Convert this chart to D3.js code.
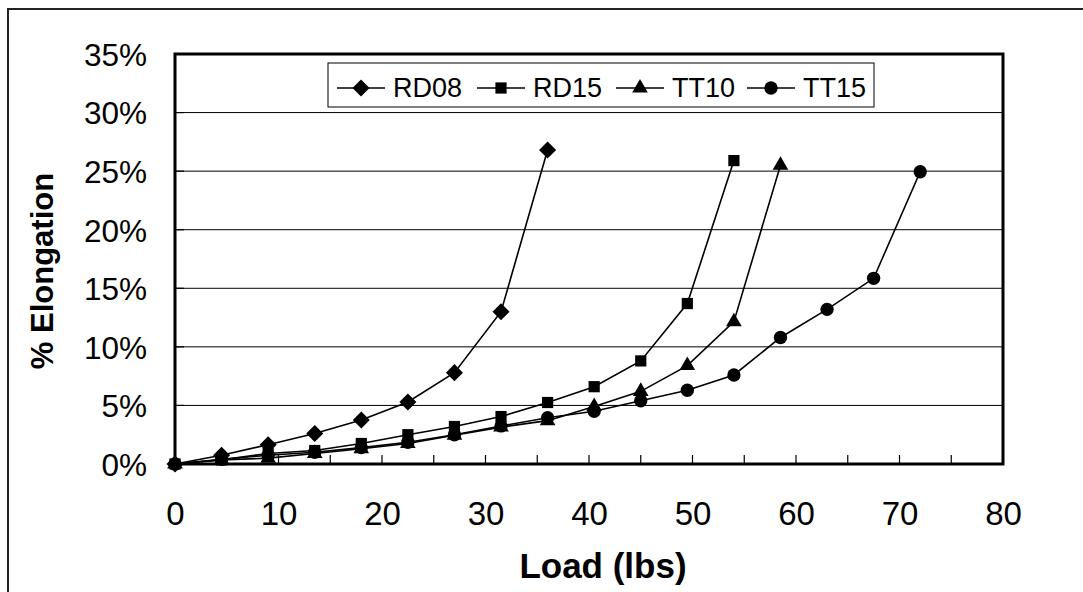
<!DOCTYPE html>
<html><head><meta charset="utf-8">
<script src="https://cdn.jsdelivr.net/npm/d3@7"></script>
<style>html,body{margin:0;padding:0;background:#fff;}svg{display:block;}</style>
</head><body>
<svg id="c" width="1083" height="592"></svg>
<script>
const loads = [0,4.5,9,13.5,18,22.5,27,31.5,36,40.5,45,49.5,54,58.5,63,67.5,72];
const seriesNames = ["RD08","RD15","TT10","TT15"];
const rd08 = [0,0.75,1.65,2.6,3.75,5.3,7.8,13.0,26.8];
const rd15 = [0,0.35,0.9,1.15,1.75,2.5,3.2,4.05,5.25,6.6,8.8,13.7,25.9];
const tt10 = [0,0.35,0.5,0.9,1.3,1.75,2.45,3.15,3.7,4.9,6.2,8.4,12.15,25.5];
const tt15 = [0,0.4,0.75,1.0,1.4,1.85,2.5,3.25,3.95,4.5,5.4,6.3,7.6,10.8,13.2,15.85,24.95];
const xTicks = [0,10,20,30,40,50,60,70,80];
const yTicks = [0,5,10,15,20,25,30,35];
const xTitle = "Load (lbs)";
const yTitle = "% Elongation";

const seriesVals = [rd08, rd15, tt10, tt15];
const symbols = [d3.symbolDiamond2, d3.symbolSquare2, d3.symbolTriangle2, d3.symbolCircle];
const symSizes = [185, 160, 175, 140];

const svg = d3.select("#c");
const FONT = "Liberation Sans, Arial, sans-serif";
const L = 175, R = 1003, T = 54, B = 464;

svg.append("rect").attr("x",8).attr("y",9).attr("width",1200).attr("height",800)
  .attr("fill","#fff").attr("stroke","#222").attr("stroke-width",2);

const x = d3.scaleLinear().domain([0,80]).range([L,R]);
const y = d3.scaleLinear().domain([0,35]).range([B,T]);

// gridlines
svg.append("g").selectAll("line").data(yTicks.filter(v=>v>0 && v<35)).join("line")
  .attr("x1",L).attr("x2",R).attr("y1",d=>y(d)).attr("y2",d=>y(d))
  .attr("stroke","#000").attr("stroke-width",1);

// inward ticks
const xMinor = d3.range(5,80,5);
svg.append("g").selectAll("line").data(xMinor).join("line")
  .attr("x1",d=>x(d)).attr("x2",d=>x(d)).attr("y1",B).attr("y2",B-9)
  .attr("stroke","#000").attr("stroke-width",1.2);
svg.append("g").selectAll("line").data(yTicks.filter(v=>v>0&&v<35)).join("line")
  .attr("x1",L).attr("x2",L+9).attr("y1",d=>y(d)).attr("y2",d=>y(d))
  .attr("stroke","#000").attr("stroke-width",1.2);

// frame
svg.append("rect").attr("x",L).attr("y",T).attr("width",R-L).attr("height",B-T)
  .attr("fill","none").attr("stroke","#000").attr("stroke-width",3);

// axes labels via d3 axes
const xAxis = d3.axisBottom(x).tickValues(xTicks).tickSize(0).tickPadding(0).tickFormat(d3.format("d"));
const gx = svg.append("g").attr("transform",`translate(0,${B})`).call(xAxis);
gx.select(".domain").remove();
gx.selectAll("text").attr("font-family",FONT).attr("font-size",33).attr("fill","#000")
  .attr("dy",null).attr("y",61);

const yAxis = d3.axisLeft(y).tickValues(yTicks).tickSize(0).tickPadding(0).tickFormat(d=>d+"%");
const gy = svg.append("g").attr("transform",`translate(147,0)`).call(yAxis);
gy.select(".domain").remove();
gy.selectAll("text").attr("font-family",FONT).attr("font-size",31.5).attr("fill","#000")
  .attr("dy","0.36em").attr("x",0);

// titles
svg.append("text").attr("x",603).attr("y",578).attr("text-anchor","middle")
  .attr("font-family",FONT).attr("font-weight","bold").attr("font-size",35).text(xTitle);
svg.append("text").attr("transform",`translate(53,271) rotate(-90)`).attr("text-anchor","middle")
  .attr("font-family",FONT).attr("font-weight","bold").attr("font-size",31).text(yTitle);

// series
const line = d3.line().x(d=>x(d[0])).y(d=>y(d[1]));
seriesVals.forEach((vals,i)=>{
  const pts = vals.map((v,j)=>[loads[j],v]);
  const g = svg.append("g");
  g.append("path").attr("d",line(pts)).attr("fill","none").attr("stroke","#000").attr("stroke-width",1.6);
  g.selectAll("path.m").data(pts).join("path").attr("class","m")
    .attr("transform",d=>`translate(${x(d[0])},${y(d[1])})`)
    .attr("d",d3.symbol().type(symbols[i]).size(symSizes[i])).attr("fill","#000");
});

// legend
const lg = svg.append("g");
lg.append("rect").attr("x",328).attr("y",63).attr("width",546).attr("height",44)
  .attr("fill","#fff").attr("stroke","#000").attr("stroke-width",1);
const lineStarts = [337,477,616,747];
seriesNames.forEach((n,i)=>{
  const x0 = lineStarts[i];
  lg.append("line").attr("x1",x0).attr("x2",x0+48).attr("y1",88).attr("y2",88)
    .attr("stroke","#000").attr("stroke-width",1.6);
  lg.append("path").attr("transform",`translate(${x0+24},88)`)
    .attr("d",d3.symbol().type(symbols[i]).size(symSizes[i])).attr("fill","#000");
  lg.append("text").attr("x",x0+56).attr("y",96.5).attr("font-family",FONT).attr("font-size",27).text(n);
});
</script>
</body></html>
